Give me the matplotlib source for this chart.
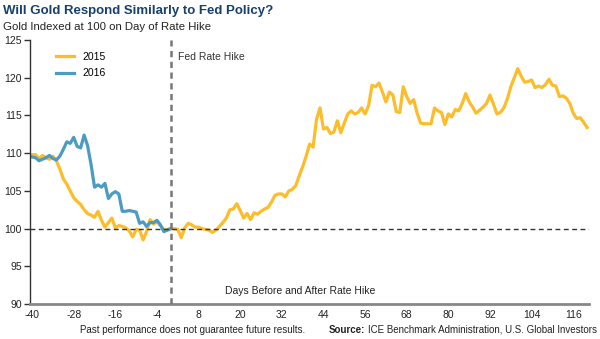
import matplotlib
matplotlib.use("Agg")
import matplotlib.pyplot as plt
import numpy as np

plt.rcParams['font.family'] = ['Liberation Sans', 'DejaVu Sans']
plt.rcParams['axes.unicode_minus'] = False

# days relative to rate hike
days_2015 = np.arange(-40, 121)
days_2016 = np.arange(-40, 1)

gold_2016 = [109.5, 109.4, 109.0, 109.2, 109.4, 109.7, 109.3, 109.1, 109.6, 110.5,
             111.5, 111.3, 112.1, 110.9, 110.7, 112.4, 111.0, 108.5, 105.5, 105.8,
             105.5, 106.0, 104.0, 104.6, 104.9, 104.6, 102.3, 102.3, 102.4, 102.3,
             102.2, 100.7, 100.9, 100.3, 100.8, 100.8, 101.1, 100.5, 99.6, 99.8,
             100.0]

gold_2015 = [109.8, 109.8, 109.3, 109.7, 109.4, 109.2, 109.6, 109.0, 107.9, 106.6,
             105.9, 105.0, 104.1, 103.6, 103.2, 102.5, 102.0, 101.8, 101.5, 102.3,
             101.1, 100.2, 100.8, 101.4, 100.1, 100.4, 100.3, 100.1, 99.7, 98.9,
             99.9, 99.8, 98.5, 99.6, 101.2, 100.6, 100.9, 100.4, 99.9, 99.9,
             100.0,
             100.0, 99.9, 98.8, 100.1, 100.7, 100.5, 100.2, 100.2, 100.0, 99.9,
             99.8, 99.5, 99.8, 100.3, 100.8, 101.4, 102.5, 102.6, 103.3, 102.4,
             101.4, 102.0, 101.2, 102.1, 101.9, 102.3, 102.6, 102.8, 103.5, 104.4,
             104.6, 104.6, 104.2, 105.0, 105.2, 105.7, 107.0, 108.2, 109.6, 111.2,
             110.8, 114.5, 116.0, 113.2, 113.4, 112.6, 112.8, 114.3, 112.7, 114.0,
             115.2, 115.6, 115.2, 115.4, 116.0, 115.2, 116.3, 119.0, 118.8, 119.3,
             118.1, 116.8, 118.1, 117.7, 115.5, 115.4, 118.8, 117.5, 116.6, 117.1,
             115.3, 114.0, 113.9, 113.9, 113.9, 116.0, 115.6, 115.4, 113.8, 115.2,
             114.8, 115.8, 115.6, 116.6, 117.9, 116.8, 116.1, 115.3, 115.7, 116.1,
             116.6, 117.7, 116.5, 115.2, 115.4, 116.0, 117.2, 118.8, 120.0, 121.2,
             120.2, 119.4, 119.5, 119.7, 118.7, 118.9, 118.7, 119.1, 119.8, 119.0,
             118.9, 117.5, 117.6, 117.3, 116.6, 115.3, 114.6, 114.7, 114.1, 113.4]

x_ticks = np.arange(-40, 117, 12)
y_ticks = np.arange(90, 126, 5)

YELLOW = '#fdbd2a'
BLUE = '#4b9bc3'
TXT = '#222222'

fig = plt.figure(figsize=(6, 3.39), dpi=100)
ax = fig.add_axes([0.05, 0.103, 0.932, 0.779])

ax.plot(days_2015, gold_2015, color=YELLOW, lw=2.3, label='2015', solid_joinstyle='round')
ax.plot(days_2016, gold_2016, color=BLUE, lw=2.3, label='2016', solid_joinstyle='round')

ax.axhline(100, color='#333333', lw=1, ls=(0, (3.5, 2.5)), zorder=3)
ax.axvline(0, color='#777777', lw=1.8, ls=(0, (2.5, 1.8)), zorder=3)

ax.set_xlim(-40.6, 120.6)
ax.set_ylim(90, 125)
ax.set_xticks(x_ticks)
ax.set_yticks(y_ticks)

for s in ['top', 'right']:
    ax.spines[s].set_visible(False)
ax.spines['left'].set_color('#333333')
ax.spines['left'].set_linewidth(1)
ax.spines['bottom'].set_color('#888888')
ax.spines['bottom'].set_linewidth(2)

ax.tick_params(axis='y', direction='out', length=4, width=1, color='#333333',
               labelsize=7.5, labelcolor=TXT, pad=2)
ax.tick_params(axis='x', length=0, labelsize=7.5, labelcolor=TXT, pad=4)

ax.text(2.0, 122.8, 'Fed Rate Hike', fontsize=7.5, color='#333333', va='center')
ax.text(0.483, 0.05, 'Days Before and After Rate Hike', transform=ax.transAxes,
        ha='center', va='center', fontsize=7.5, color=TXT)

ax.legend(loc='upper left', bbox_to_anchor=(0.03, 0.99), frameon=False,
          fontsize=7.5, handlelength=1.7, handletextpad=0.8, labelspacing=0.6)

fig.text(0.005, 0.985, 'Will Gold Respond Similarly to Fed Policy?', fontsize=9.5,
         fontweight='bold', color='#17406d', va='top', ha='left')
fig.text(0.005, 0.935, 'Gold Indexed at 100 on Day of Rate Hike', fontsize=8.2,
         color=TXT, va='top', ha='left')

fig.text(0.133, 0.028, 'Past performance does not guarantee future results.',
         fontsize=7, color=TXT, va='center', ha='left')
src = fig.text(0.995, 0.028, 'ICE Benchmark Administration, U.S. Global Investors',
               fontsize=7, color=TXT, va='center', ha='right')
fig.canvas.draw()
bb = src.get_window_extent()
fig.text(bb.x0 / fig.bbox.width - 0.005, 0.028, 'Source:', fontsize=7,
         fontweight='bold', color=TXT, va='center', ha='right')

fig.savefig('out.png', dpi=100)
